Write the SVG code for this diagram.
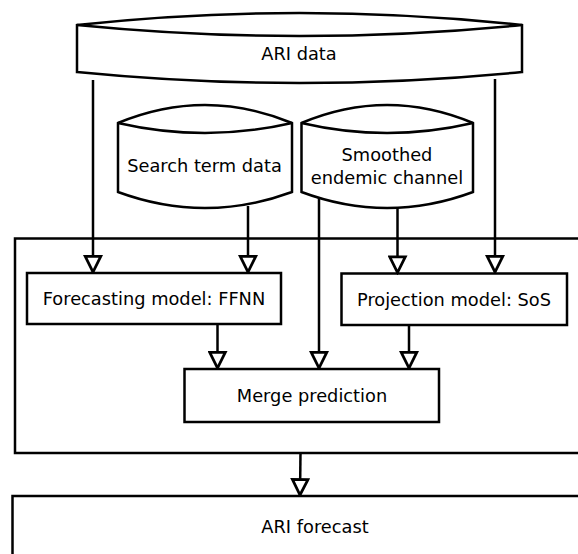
<svg xmlns="http://www.w3.org/2000/svg" width="578" height="554" viewBox="0 0 578 554">
<style>
.s{fill:#fff;stroke:#000;stroke-width:2.5}
.t{font-family:"DejaVu Sans",sans-serif;font-size:17.8px;fill:#000;text-anchor:middle}
.c{fill:none;stroke:#000;stroke-width:2.5}
</style>
<defs>
<marker id="a" markerUnits="userSpaceOnUse" markerWidth="20" markerHeight="20" viewBox="-2 -9 18 18" refX="14" refY="0" orient="auto">
<path d="M0,-7 L14,0 L0,7 Z" fill="#fff" stroke="#000" stroke-width="2.5" stroke-linejoin="miter"/>
</marker>
</defs>
<rect width="578" height="554" fill="#fff"/>
<g id="container"><rect class="s" x="15" y="238.5" width="600" height="214.5"/></g>
<g id="ari-forecast"><rect class="s" x="12.5" y="496" width="600" height="80"/><text class="t" x="315" y="533">ARI forecast</text></g>
<g id="ari-data">
<path class="s" d="M77,25 Q299.5,1 522,25 L522,72 Q299.5,94 77,72 Z"/>
<path class="c" d="M77,25 Q299.5,47 522,25"/>
<text class="t" x="299" y="60">ARI data</text>
</g>
<g id="search-term-data">
<path class="s" d="M118,123 Q205,87 292,123 L292,192 Q205,224 118,192 Z"/>
<path class="c" d="M118,123 Q205,143 292,123"/>
<text class="t" x="204.5" y="172">Search term data</text>
</g>
<g id="smoothed-endemic-channel">
<path class="s" d="M301.5,123 Q387,87 473,123 L473,192 Q387,224 301.5,192 Z"/>
<path class="c" d="M301.5,123 Q387,143 473,123"/>
<text class="t" x="387" y="161">Smoothed</text>
<text class="t" x="387" y="184">endemic channel</text>
</g>
<g id="forecasting-model"><rect class="s" x="27" y="273" width="254" height="51"/><text class="t" x="154" y="305">Forecasting model: FFNN</text></g>
<g id="projection-model"><rect class="s" x="341.5" y="273.5" width="225.5" height="51.5"/><text class="t" x="454" y="305.5">Projection model: SoS</text></g>
<g id="merge-prediction"><rect class="s" x="184.5" y="369" width="254.5" height="53"/><text class="t" x="312" y="401.5">Merge prediction</text></g>
<g id="connectors">
<path class="c" marker-end="url(#a)" d="M93,80 L93,272"/>
<path class="c" marker-end="url(#a)" d="M495,79 L495,272"/>
<path class="c" marker-end="url(#a)" d="M248,206 L248,272"/>
<path class="c" marker-end="url(#a)" d="M397.5,208 L397.5,272.5"/>
<path class="c" marker-end="url(#a)" d="M319,197 L319,368"/>
<path class="c" marker-end="url(#a)" d="M217.5,324 L217.5,368"/>
<path class="c" marker-end="url(#a)" d="M409,325 L409,368"/>
<path class="c" marker-end="url(#a)" d="M300.5,453 L300,495"/>
</g>
</svg>
